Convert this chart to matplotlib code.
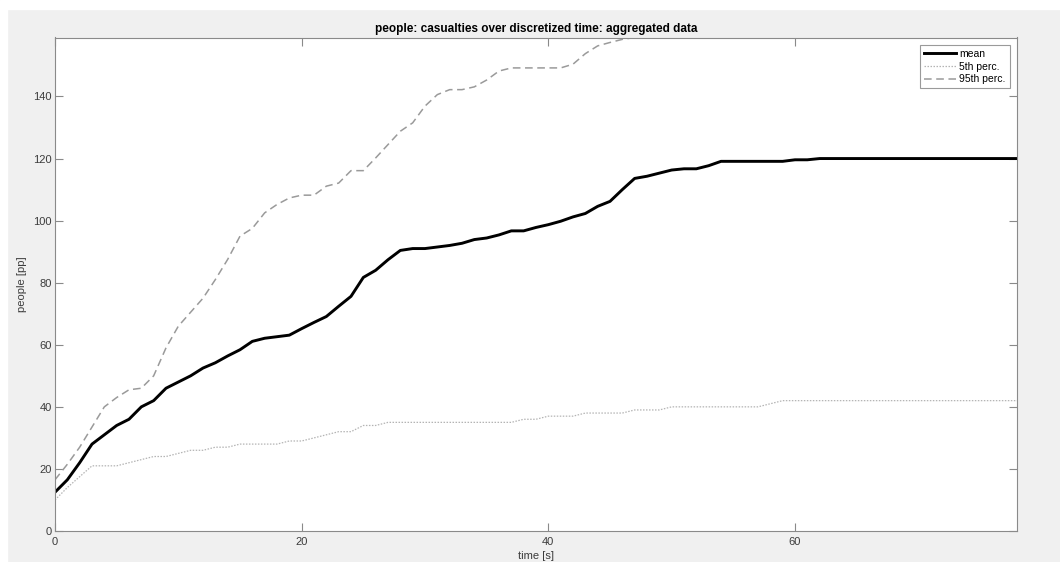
import numpy as np
import matplotlib
matplotlib.use("Agg")
from matplotlib import pyplot as plt
from matplotlib.patches import Rectangle

# time steps [s]
time_s = np.arange(0, 79)

# mean casualties per time step
mean_pp = [12.5, 16.5, 22.0, 28.0, 31.0, 34.0, 36.0, 40.0, 42.0, 46.0,
           48.0, 50.0, 52.5, 54.2, 56.4, 58.4, 61.1, 62.1, 62.6, 63.1,
           65.2, 67.2, 69.1, 72.4, 75.6, 81.7, 84.0, 87.4, 90.4, 91.0,
           91.0, 91.5, 92.0, 92.7, 93.9, 94.4, 95.4, 96.7, 96.7, 97.8,
           98.7, 99.8, 101.2, 102.3, 104.6, 106.2, 110.0, 113.6, 114.3, 115.3,
           116.3, 116.7, 116.7, 117.7, 119.1, 119.1, 119.1, 119.1, 119.1, 119.1,
           119.6, 119.6] + [120.0] * 17

# 5th percentile
p05_pp = [10, 14, 17.5, 21, 21, 21, 22, 23, 24, 24,
          25, 26, 26, 27, 27, 28, 28, 28, 28, 29,
          29, 30, 31, 32, 32, 34, 34, 35, 35, 35,
          35, 35, 35, 35, 35, 35, 35, 35, 36, 36,
          37, 37, 37, 38, 38, 38, 38, 39, 39, 39,
          40, 40, 40, 40, 40, 40, 40, 40, 41] + [42] * 20

# 95th percentile
p95_pp = [16.5, 21.5, 27, 33.5, 40, 43, 45.5, 46, 50, 59,
          66, 70.5, 75, 81, 87.5, 95, 97.5, 102.5, 105.2, 107.3,
          108.2, 108.2, 111.1, 112.1, 116.1, 116.1, 120.2, 124.5, 128.8, 131.5,
          136.9, 140.6, 142.2, 142.2, 143.1, 145.3, 148.2, 149.2, 149.2, 149.2,
          149.2, 149.2, 150.4, 153.8, 156.3, 157.4, 158.4] + [159] * 32

W, H = 1060, 562
fig = plt.figure(figsize=(W / 100, H / 100), dpi=100, facecolor="#f0f0f0")

# white margin strips at top and left of the window grab
fig.add_artist(Rectangle((0, 1 - 9 / H), 1, 9 / H, transform=fig.transFigure,
                         color="white", zorder=0))
fig.add_artist(Rectangle((0, 0), 7 / W, 1, transform=fig.transFigure,
                         color="white", zorder=0))

left, right, top, bottom = 55, 1017, 37.5, 531
ax = fig.add_axes([left / W, (H - bottom) / H, (right - left) / W, (bottom - top) / H])
ax.set_facecolor("white")

ax.plot(time_s, mean_pp, color="black", lw=2.1, label="mean")
ax.plot(time_s, p05_pp, color="#b4b4b4", lw=0.9, dashes=(1.2, 1.2), label="5th perc.")
ax.plot(time_s, p95_pp, color="#9a9a9a", lw=1.1, dashes=(5, 3), label="95th perc.")

ax.set_xlim(0, 78)
ax.set_ylim(0, max(p95_pp))
ax.set_xticks([0, 20, 40, 60])
ax.set_yticks(np.arange(0, 141, 20))

axis_grey = "#8a8a8a"
label_grey = "#3c3c3c"
for sp in ax.spines.values():
    sp.set_color(axis_grey)
    sp.set_linewidth(0.8)
ax.tick_params(direction="in", length=6, width=0.8, color=axis_grey,
               labelcolor=label_grey, labelsize=8, top=True, right=True)
ax.tick_params(axis="x", pad=4)
ax.tick_params(axis="y", pad=2.5)
for lbl in ax.get_xticklabels() + ax.get_yticklabels():
    lbl.set_family("Liberation Sans")

ax.set_title("people: casualties over discretized time: aggregated data",
             fontsize=8.5, fontweight="bold", family="Liberation Sans", pad=4)
ax.set_xlabel("time [s]", fontsize=8, color=label_grey, family="Liberation Sans")
ax.set_ylabel("people [pp]", fontsize=8, color=label_grey, family="Liberation Sans")
ax.xaxis.set_label_coords(0.5, -0.051)
ax.xaxis.label.set_va("center")
ax.yaxis.set_label_coords(-0.034, 0.5)
ax.yaxis.label.set_va("center")

leg = ax.legend(loc="upper right", frameon=True, fancybox=False,
                framealpha=1, edgecolor="#9a9a9a", handlelength=3.0,
                borderaxespad=0.7, borderpad=0.4, labelspacing=0.25,
                handletextpad=0.35, prop={"family": "Liberation Sans", "size": 7.5})
leg.get_frame().set_linewidth(0.8)

fig.savefig("out.png", dpi=100, facecolor=fig.get_facecolor())
